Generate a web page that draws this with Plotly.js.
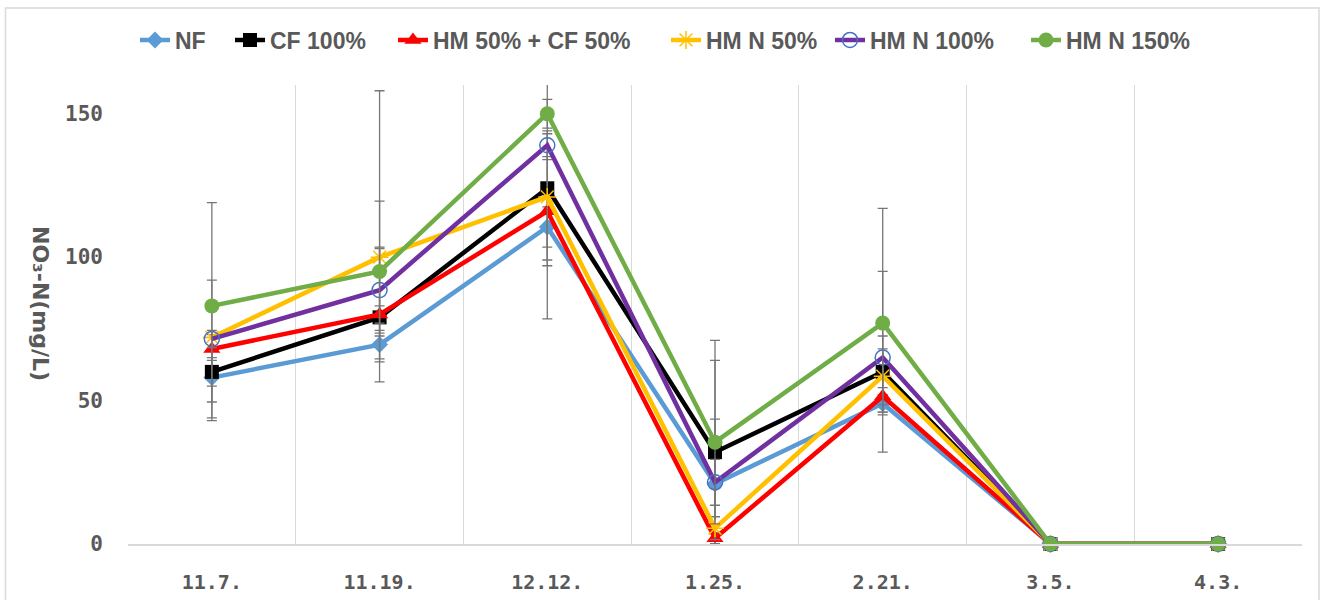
<!DOCTYPE html>
<html>
<head>
<meta charset="utf-8">
<script src="https://cdn.plot.ly/plotly-3.0.1.min.js"></script>
<style>html,body{margin:0;padding:0;background:#fff;}#chart{width:1321px;height:600px;}</style>
</head>
<body>
<div id="chart"></div>
<script>
// Categories (sampling dates)
const categories = ['11.7.', '11.19.', '12.12.', '1.25.', '2.21.', '3.5.', '4.3.'];

// Series names
const seriesNames = ['NF', 'CF 100%', 'HM 50% + CF 50%', 'HM N 50%', 'HM N 100%', 'HM N 150%'];

// Series values (NO3-N, mg/L)
const nf       = [58, 69.5, 110.5, 21, 49, 0, 0];
const cf100    = [60, 79, 124, 32, 60, 0, 0];
const hm50cf50 = [68, 80, 116, 2, 51.5, 0, 0];
const hmN50    = [72, 100, 121, 5.5, 58.5, 0, 0];
const hmN100   = [71.5, 88.5, 139, 21.5, 65, 0, 0];
const hmN150   = [83, 95, 150, 35.5, 77, 0, 0];

// Error bars (plus / minus)
const nfErrPlus        = [15, 5, 7, 22.5, 3, 0, 0];
const nfErrMinus       = [15, 5, 7, 21, 3, 0, 0];
const cf100ErrPlus     = [5, 24, 45.5, 39, 8, 0, 0];
const cf100ErrMinus    = [5, 15.5, 45.5, 32, 8, 0, 0];
const hm50cf50ErrPlus  = [4, 3, 19, 2, 3, 0, 0];
const hm50cf50ErrMinus = [4, 3, 19, 2, 3, 0, 0];
const hmN50ErrPlus     = [20, 58, 22, 4, 14, 0, 0];
const hmN50ErrMinus    = [22.5, 43.5, 22, 4, 12.5, 0, 0];
const hmN100ErrPlus    = [3, 15, 5, 8, 30, 0, 0];
const hmN100ErrMinus   = [3, 15, 5, 8, 20, 0, 0];
const hmN150ErrPlus    = [36, 24.5, 5, 28.5, 40, 0, 0];
const hmN150ErrMinus   = [39, 22.5, 5, 28.5, 45, 0, 0];

// Y axis ticks
const yTickVals = [0, 50, 100, 150];

const values = [nf, cf100, hm50cf50, hmN50, hmN100, hmN150];
const errPlus = [nfErrPlus, cf100ErrPlus, hm50cf50ErrPlus, hmN50ErrPlus, hmN100ErrPlus, hmN150ErrPlus];
const errMinus = [nfErrMinus, cf100ErrMinus, hm50cf50ErrMinus, hmN50ErrMinus, hmN100ErrMinus, hmN150ErrMinus];

const styles = [
  {line: '#5B9BD5', marker: {symbol: 'diamond', size: 13, color: '#5B9BD5'}},
  {line: '#000000', marker: {symbol: 'square', size: 14, color: '#000000'}},
  {line: '#FF0000', marker: {symbol: 'triangle-up', size: 15, color: '#FF0000'}},
  {line: '#FFC000', marker: {symbol: 'asterisk-open', size: 15, color: '#FFC000', line: {color: '#FFC000', width: 1.5}}},
  {line: '#7030A0', marker: {symbol: 'circle-open', size: 15, color: '#4472C4', line: {color: '#4472C4', width: 1.5}}},
  {line: '#70AD47', marker: {symbol: 'circle', size: 15, color: '#70AD47'}}
];

// legend entry left positions (px)
const legendLeftPx = [135, 230, 393, 666, 830, 1026];

const legendKeys = seriesNames.map((_, i) => i === 0 ? 'legend' : 'legend' + (i + 1));

const traces = values.map((v, i) => ({
  type: 'scatter',
  mode: 'lines+markers',
  name: seriesNames[i],
  legend: legendKeys[i],
  x: categories,
  y: v,
  cliponaxis: false,
  line: {color: styles[i].line, width: 4.5},
  marker: styles[i].marker,
  error_y: {
    type: 'data',
    symmetric: false,
    array: errPlus[i],
    arrayminus: errMinus[i],
    color: '#767676',
    thickness: 1.3,
    width: 5
  }
}));

const W = 1321, H = 600;
const L = 128, R = 19, T = 85, B = 56;
const pw = W - L - R, ph = H - T - B;
const px = x => (x - L) / pw;
const py = y => (H - B - y) / ph;

const layout = {
  width: W, height: H,
  margin: {l: L, r: R, t: T, b: B, pad: 0},
  paper_bgcolor: '#ffffff',
  plot_bgcolor: '#ffffff',
  showlegend: true,
  xaxis: {
    type: 'category',
    range: [-0.5, categories.length - 0.5],
    tickson: 'boundaries',
    showgrid: true,
    gridcolor: '#D9D9D9',
    gridwidth: 1,
    showline: true,
    linecolor: '#D9D9D9',
    linewidth: 1.5,
    ticks: '',
    zeroline: false,
    ticklabelstandoff: 19,
    tickfont: {family: 'DejaVu Sans Mono, monospace', size: 20, color: '#595959', weight: 'bold'}
  },
  yaxis: {
    range: [0, 160],
    tickvals: yTickVals,
    showgrid: false,
    zeroline: false,
    showline: false,
    ticks: '',
    ticklabelstandoff: 24,
    tickfont: {family: 'DejaVu Sans Mono, monospace', size: 21, color: '#595959', weight: 'bold'}
  },
  annotations: [{
    text: 'NO₃-N(mg/L)',
    xref: 'paper', yref: 'paper',
    x: px(41), y: py(303),
    xanchor: 'center', yanchor: 'middle',
    textangle: 90,
    showarrow: false,
    font: {family: 'DejaVu Sans, sans-serif', size: 22, color: '#595959', weight: 'bold'}
  }],
  shapes: [{
    type: 'rect', xref: 'paper', yref: 'paper', layer: 'below',
    x0: px(5.5), x1: px(1319), y0: py(612), y1: py(8),
    line: {color: '#D9D9D9', width: 1.5},
    fillcolor: 'rgba(0,0,0,0)'
  }]
};

legendKeys.forEach((k, i) => {
  layout[k] = {
    orientation: 'h',
    x: px(legendLeftPx[i]), xanchor: 'left',
    y: py(40), yanchor: 'middle',
    font: {family: 'Liberation Sans, Arial, sans-serif', size: 23, color: '#595959', weight: 'bold'},
    bgcolor: 'rgba(0,0,0,0)'
  };
});

Plotly.newPlot('chart', traces, layout, {displayModeBar: false, staticPlot: true});
</script>
</body>
</html>
